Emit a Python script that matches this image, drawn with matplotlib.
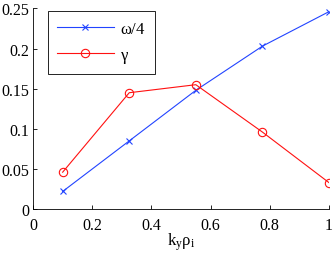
import matplotlib
matplotlib.use('Agg')
import matplotlib.pyplot as plt

plt.rcParams['font.family'] = ['Liberation Serif', 'DejaVu Serif']
plt.rcParams['mathtext.fontset'] = 'custom'
plt.rcParams['mathtext.rm'] = 'Liberation Serif'
plt.rcParams['mathtext.it'] = 'Liberation Serif'

# data
kyrho = [0.1, 0.325, 0.55, 0.775, 1.0]
omega4 = [0.022, 0.085, 0.148, 0.203, 0.246]
gamma = [0.046, 0.145, 0.155, 0.096, 0.033]

fig = plt.figure(figsize=(3.34, 2.55), dpi=100)
ax = fig.add_axes([0.099, 0.176, 0.886, 0.787])

ax.plot(kyrho, omega4, '-x', color='#2244ff', lw=0.8, ms=5, mew=0.8, label=r'$\omega$/4')
ax.plot(kyrho, gamma, '-o', color='#ff1111', lw=0.8, ms=6, mew=0.8, mfc='none', label=r'$\gamma$')

ax.set_xlim(0, 1)
ax.set_ylim(0, 0.25)
ax.set_xticks([0, 0.2, 0.4, 0.6, 0.8, 1])
ax.set_xticklabels(['0', '0.2', '0.4', '0.6', '0.8', '1'])
ax.set_yticks([0, 0.05, 0.1, 0.15, 0.2, 0.25])
ax.set_yticklabels(['0', '0.05', '0.1', '0.15', '0.2', '0.25'])
ax.tick_params(direction='in', labelsize=11.5, length=3, width=0.6)
ax.tick_params(axis='x', pad=6)
ax.tick_params(axis='y', pad=3)
ax.spines['top'].set_visible(False)
ax.spines['right'].set_visible(False)
ax.spines['left'].set_linewidth(0.6)
ax.spines['bottom'].set_linewidth(0.6)
ax.set_xlabel(r'$\mathrm{k_y\rho_i}$', fontsize=12, labelpad=-2)

leg = ax.legend(loc='upper left', bbox_to_anchor=(0.05, 0.985), fontsize=12, fancybox=False,
                edgecolor='black', framealpha=1, handlelength=3.4, handletextpad=0.4,
                borderpad=0.55, labelspacing=0.6, borderaxespad=0)
leg.get_frame().set_linewidth(0.6)

fig.savefig('out.png', dpi=100)
